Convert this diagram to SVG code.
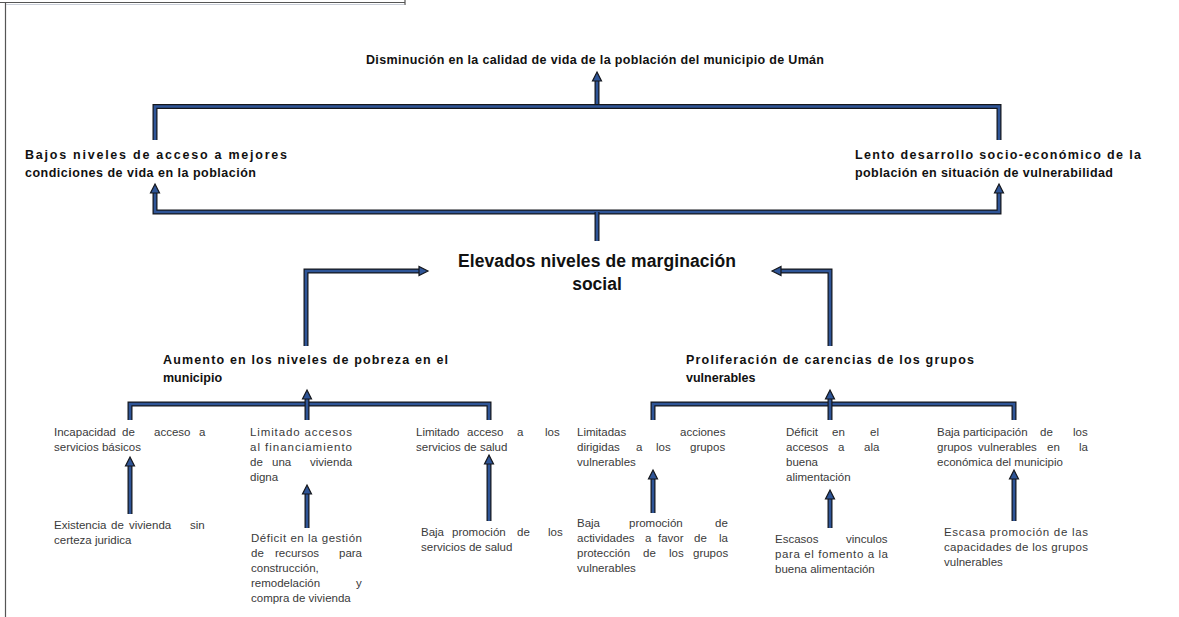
<svg xmlns="http://www.w3.org/2000/svg" xmlns:xlink="http://www.w3.org/1999/xlink" width="1179" height="617" viewBox="0 0 1179 617">
<defs>
<style>
.o{fill:none;stroke:#15171c;stroke-width:5;stroke-linejoin:miter;stroke-linecap:butt}
.i{fill:none;stroke:#2f5597;stroke-width:2.6;stroke-linejoin:miter;stroke-linecap:butt}
.ah{fill:#2f5597;stroke:#15171c;stroke-width:1.2;stroke-linejoin:miter}
.b{font-family:"Liberation Sans",Arial,sans-serif;font-weight:bold;font-size:12.5px;fill:#111}
.s{font-family:"Liberation Sans",Arial,sans-serif;font-size:11.5px;fill:#3a3a3a}
.frame{fill:none;stroke:#555;stroke-width:1.2}
</style>
<path id="hu" d="M0,0 L4.5,9 L-4.5,9 Z"/>
<path id="hr" d="M0,0 L-9,-4.5 L-9,4.5 Z"/>
<path id="hl" d="M0,0 L9,-4.5 L9,4.5 Z"/>
</defs>
<rect width="1179" height="617" fill="#fff"/>
<g id="frame">
<path class="frame" d="M0,2.5 H405 M405,0 V5 M5.5,3 V617"/>
<path d="M6,4.5 H404" stroke="#c9ced8" stroke-width="1" fill="none"/>
</g>
<g id="connectors">
<path class="o" d="M597,107 V80"/><path class="i" d="M597,107 V80"/>
<path class="o" d="M155,140 V106.5 H999 V140"/><path class="i" d="M155,140 V106.5 H999 V140"/>
<path class="o" d="M155,192 V212 H999 V192"/><path class="i" d="M155,192 V212 H999 V192"/>
<path class="o" d="M597,212 V241"/><path class="i" d="M597,212 V241"/>
<path class="o" d="M306,346 V271 H420"/><path class="i" d="M306,346 V271 H420"/>
<path class="o" d="M830,346 V271 H780"/><path class="i" d="M830,346 V271 H780"/>
<path class="o" d="M130,420 V404 H489 V420"/><path class="i" d="M130,420 V404 H489 V420"/>
<path class="o" d="M307,420 V398"/><path class="i" d="M307,420 V398"/>
<path class="o" d="M653,420 V404 H1014 V420"/><path class="i" d="M653,420 V404 H1014 V420"/>
<path class="o" d="M830,420 V398"/><path class="i" d="M830,420 V398"/>
<path class="o" d="M130,514 V465"/><path class="i" d="M130,514 V465"/>
<path class="o" d="M307,528 V493"/><path class="i" d="M307,528 V493"/>
<path class="o" d="M489,521 V463"/><path class="i" d="M489,521 V463"/>
<path class="o" d="M653,513 V478"/><path class="i" d="M653,513 V478"/>
<path class="o" d="M830,528 V498"/><path class="i" d="M830,528 V498"/>
<path class="o" d="M1014,521 V478"/><path class="i" d="M1014,521 V478"/>
<use class="ah" href="#hu" x="597" y="72"/>
<use class="ah" href="#hu" x="155" y="184"/>
<use class="ah" href="#hu" x="999" y="184"/>
<use class="ah" href="#hr" x="428" y="271"/>
<use class="ah" href="#hl" x="772" y="271"/>
<use class="ah" href="#hu" x="307" y="390"/>
<use class="ah" href="#hu" x="830" y="390"/>
<use class="ah" href="#hu" x="130" y="457"/>
<use class="ah" href="#hu" x="307" y="485"/>
<use class="ah" href="#hu" x="489" y="455"/>
<use class="ah" href="#hu" x="653" y="470"/>
<use class="ah" href="#hu" x="830" y="490"/>
<use class="ah" href="#hu" x="1014" y="470"/>
</g>
<g id="n-top"><text class="b" x="366" y="64" textLength="458" lengthAdjust="spacing">Disminución en la calidad de vida de la población del municipio de Umán</text></g>
<g id="n-bajos">
<text class="b" x="25" y="159" textLength="262" lengthAdjust="spacing">Bajos niveles de acceso a mejores</text>
<text class="b" x="25" y="177" textLength="231" lengthAdjust="spacing">condiciones de vida en la población</text>
</g>
<g id="n-lento">
<text class="b" x="855" y="159" textLength="286" lengthAdjust="spacing">Lento desarrollo socio-económico de la</text>
<text class="b" x="855" y="177" textLength="258" lengthAdjust="spacing">población en situación de vulnerabilidad</text>
</g>
<g id="n-center">
<text class="b" x="597" y="267" style="font-size:17.5px" text-anchor="middle" textLength="278" lengthAdjust="spacing">Elevados niveles de marginación</text>
<text class="b" x="597" y="290" style="font-size:17.5px" text-anchor="middle">social</text>
</g>
<g id="n-aumento">
<text class="b" x="163" y="364" textLength="285" lengthAdjust="spacing">Aumento en los niveles de pobreza en el</text>
<text class="b" x="163" y="382">municipio</text>
</g>
<g id="n-prolif">
<text class="b" x="686" y="364" textLength="288" lengthAdjust="spacing">Proliferación de carencias de los grupos</text>
<text class="b" x="686" y="382">vulnerables</text>
</g>
<g id="n-incap">
<text class="s" y="436"><tspan x="54">Incapacidad</tspan><tspan x="122">de</tspan><tspan x="154">acceso</tspan><tspan x="199">a</tspan></text>
<text class="s" x="54" y="451">servicios básicos</text>
</g>
<g id="n-limfin">
<text class="s" x="250" y="436" textLength="102" lengthAdjust="spacing">Limitado accesos</text>
<text class="s" x="250" y="451" textLength="102" lengthAdjust="spacing">al financiamiento</text>
<text class="s" y="466"><tspan x="250">de</tspan><tspan x="272">una</tspan><tspan x="310">vivienda</tspan></text>
<text class="s" x="250" y="481">digna</text>
</g>
<g id="n-limsal">
<text class="s" y="436"><tspan x="416">Limitado</tspan><tspan x="467">acceso</tspan><tspan x="517">a</tspan><tspan x="545">los</tspan></text>
<text class="s" x="416" y="451">servicios de salud</text>
</g>
<g id="n-limacc">
<text class="s" y="436"><tspan x="577">Limitadas</tspan><tspan x="680">acciones</tspan></text>
<text class="s" y="451"><tspan x="577">dirigidas</tspan><tspan x="636">a</tspan><tspan x="656">los</tspan><tspan x="690">grupos</tspan></text>
<text class="s" x="577" y="466">vulnerables</text>
</g>
<g id="n-defali">
<text class="s" y="436"><tspan x="786">Déficit</tspan><tspan x="832">en</tspan><tspan x="870">el</tspan></text>
<text class="s" y="451"><tspan x="786">accesos</tspan><tspan x="838">a</tspan><tspan x="864">ala</tspan></text>
<text class="s" x="786" y="466">buena</text>
<text class="s" x="786" y="481">alimentación</text>
</g>
<g id="n-bajapart">
<text class="s" y="436"><tspan x="937">Baja</tspan><tspan x="963">participación</tspan><tspan x="1040">de</tspan><tspan x="1073">los</tspan></text>
<text class="s" y="451"><tspan x="937">grupos</tspan><tspan x="978">vulnerables</tspan><tspan x="1047">en</tspan><tspan x="1079">la</tspan></text>
<text class="s" x="937" y="466">económica del municipio</text>
</g>
<g id="n-exist">
<text class="s" y="529"><tspan x="54">Existencia</tspan><tspan x="111">de</tspan><tspan x="129">vivienda</tspan><tspan x="190">sin</tspan></text>
<text class="s" x="54" y="544">certeza juridica</text>
</g>
<g id="n-defges">
<text class="s" x="251" y="542" textLength="111" lengthAdjust="spacing">Déficit en la gestión</text>
<text class="s" y="557"><tspan x="251">de</tspan><tspan x="275">recursos</tspan><tspan x="339">para</tspan></text>
<text class="s" x="251" y="572">construcción,</text>
<text class="s" y="587"><tspan x="251">remodelación</tspan><tspan x="356">y</tspan></text>
<text class="s" x="251" y="602">compra de vivienda</text>
</g>
<g id="n-bajasal">
<text class="s" y="536"><tspan x="421">Baja</tspan><tspan x="452">promoción</tspan><tspan x="517">de</tspan><tspan x="548">los</tspan></text>
<text class="s" x="421" y="551">servicios de salud</text>
</g>
<g id="n-bajaact">
<text class="s" y="527"><tspan x="577">Baja</tspan><tspan x="629">promoción</tspan><tspan x="715">de</tspan></text>
<text class="s" y="542"><tspan x="577">actividades</tspan><tspan x="645">a</tspan><tspan x="658">favor</tspan><tspan x="694">de</tspan><tspan x="719">la</tspan></text>
<text class="s" y="557"><tspan x="577">protección</tspan><tspan x="643">de</tspan><tspan x="669">los</tspan><tspan x="693">grupos</tspan></text>
<text class="s" x="577" y="572">vulnerables</text>
</g>
<g id="n-escasos">
<text class="s" y="543"><tspan x="775">Escasos</tspan><tspan x="846">vinculos</tspan></text>
<text class="s" x="775" y="558" textLength="113" lengthAdjust="spacing">para el fomento a la</text>
<text class="s" x="775" y="573">buena alimentación</text>
</g>
<g id="n-escasa">
<text class="s" x="944" y="536" textLength="144" lengthAdjust="spacing">Escasa promoción de las</text>
<text class="s" x="944" y="551" textLength="144" lengthAdjust="spacing">capacidades de los grupos</text>
<text class="s" x="944" y="566">vulnerables</text>
</g>
</svg>
